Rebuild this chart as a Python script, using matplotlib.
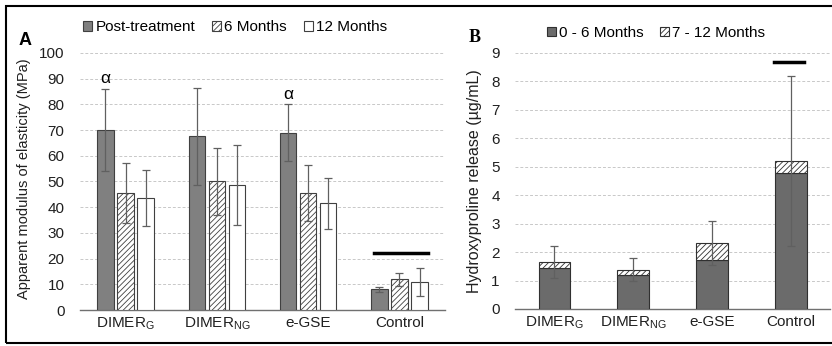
import matplotlib.pyplot as plt
import numpy as np
from matplotlib.patches import Rectangle

plt.rcParams['font.family'] = ['Liberation Sans', 'DejaVu Sans']
plt.rcParams['hatch.color'] = '#505050'
plt.rcParams['hatch.linewidth'] = 0.6

##data panel A
groups = ['DIMER$_\\mathregular{G}$', 'DIMER$_\\mathregular{NG}$', 'e-GSE', 'Control']
post = [70, 67.5, 69, 8]
post_err = [16, 19, 11, 1]
m6 = [45.5, 50, 45.5, 12]
m6_err = [11.5, 13, 11, 2.5]
m12 = [43.5, 48.5, 41.5, 11]
m12_err = [11, 15.5, 10, 5.5]
alpha_marks = [0, 2]
ctrl_line_a = 22

##data panel B
early = [1.45, 1.2, 1.72, 4.78]
late = [0.2, 0.18, 0.6, 0.42]
total_err = [0.55, 0.4, 0.76, 3.0]
ctrl_line_b = 8.68

fig = plt.figure(figsize=(8.32, 3.46), dpi=100)
axA = fig.add_axes([0.096, 0.104, 0.439, 0.743])
axB = fig.add_axes([0.619, 0.107, 0.379, 0.740])

errkw = dict(ecolor='#606060', elinewidth=0.9, capsize=3, capthick=0.9)
x = np.arange(len(groups))
w = 0.18
axA.bar(x - 0.22, post, w, yerr=post_err, color='#808080', edgecolor='#404040',
        lw=0.8, label='Post-treatment', error_kw=errkw, zorder=3)
axA.bar(x, m6, w, yerr=m6_err, color='white', edgecolor='#404040', hatch='//////',
        lw=0.8, label='6 Months', error_kw=errkw, zorder=3)
axA.bar(x + 0.22, m12, w, yerr=m12_err, color='white', edgecolor='#404040',
        lw=0.8, label='12 Months', error_kw=errkw, zorder=3)
for i in alpha_marks:
    axA.text(x[i] - 0.22, post[i] + post_err[i] + 1, 'α', ha='center', va='bottom', fontsize=12.5)
axA.plot([x[3] - 0.28, x[3] + 0.31], [ctrl_line_a, ctrl_line_a], color='black', lw=2.5, zorder=4)
axA.set_ylim(0, 100)
axA.set_yticks(range(0, 101, 10))
axA.set_xlim(-0.5, 3.5)
axA.set_ylabel('Apparent modulus of elasticity (MPa)', fontsize=10.5, color='#202020')
axA.yaxis.set_label_coords(-0.135, 0.51)
axA.legend(loc='center left', bbox_to_anchor=(0.009, 1.1), ncol=3, frameon=False,
           fontsize=11, handlelength=0.6, handleheight=0.6, handletextpad=0.2,
           columnspacing=1.1, borderaxespad=0, borderpad=0)

axB.bar(x, early, 0.4, color='#6b6b6b', edgecolor='#303030', lw=0.8,
        label='0 - 6 Months', zorder=3)
axB.bar(x, late, 0.4, bottom=early, yerr=total_err, color='white', edgecolor='#303030',
        hatch='//////', lw=0.8, label='7 - 12 Months', error_kw=errkw, zorder=3)
axB.plot([x[3] - 0.22, x[3] + 0.16], [ctrl_line_b, ctrl_line_b], color='black', lw=2.5, zorder=4)
axB.set_ylim(0, 9)
axB.set_yticks(range(0, 10))
axB.set_xlim(-0.5, 3.5)
axB.set_ylabel('Hydroxyproline release (µg/mL)', fontsize=11.5, color='#202020')
axB.yaxis.set_label_coords(-0.105, 0.5)
axB.legend(loc='center left', bbox_to_anchor=(0.1, 1.078), ncol=2, frameon=False,
           fontsize=11, handlelength=0.6, handleheight=0.6, handletextpad=0.2,
           columnspacing=1.1, borderaxespad=0, borderpad=0)

for ax in (axA, axB):
    ax.set_xticks(x)
    ax.set_xticklabels(groups, fontsize=11, color='#202020')
    ax.tick_params(axis='y', labelsize=11, length=0, labelcolor='#202020', pad=11)
    ax.tick_params(axis='x', length=0, pad=4)
    for s in ['top', 'right', 'left']:
        ax.spines[s].set_visible(False)
    ax.spines['bottom'].set_color('#707070')
    ax.spines['bottom'].set_linewidth(1.0)
    ax.yaxis.grid(True, linestyle=(0, (3, 2)), color='#c8c8c8', lw=0.7, zorder=0)
    ax.set_axisbelow(True)

fig.text(0.022, 0.87, 'A', fontsize=13, fontweight='bold')
fig.text(0.563, 0.878, 'B', fontsize=13, fontweight='bold', family='Liberation Serif')
fig.patches.append(Rectangle((6 / 832, 3 / 346), 1.0, 1 - 9 / 346, transform=fig.transFigure,
                             fill=False, edgecolor='black', lw=1.5))

fig.savefig('out.png', dpi=100)
